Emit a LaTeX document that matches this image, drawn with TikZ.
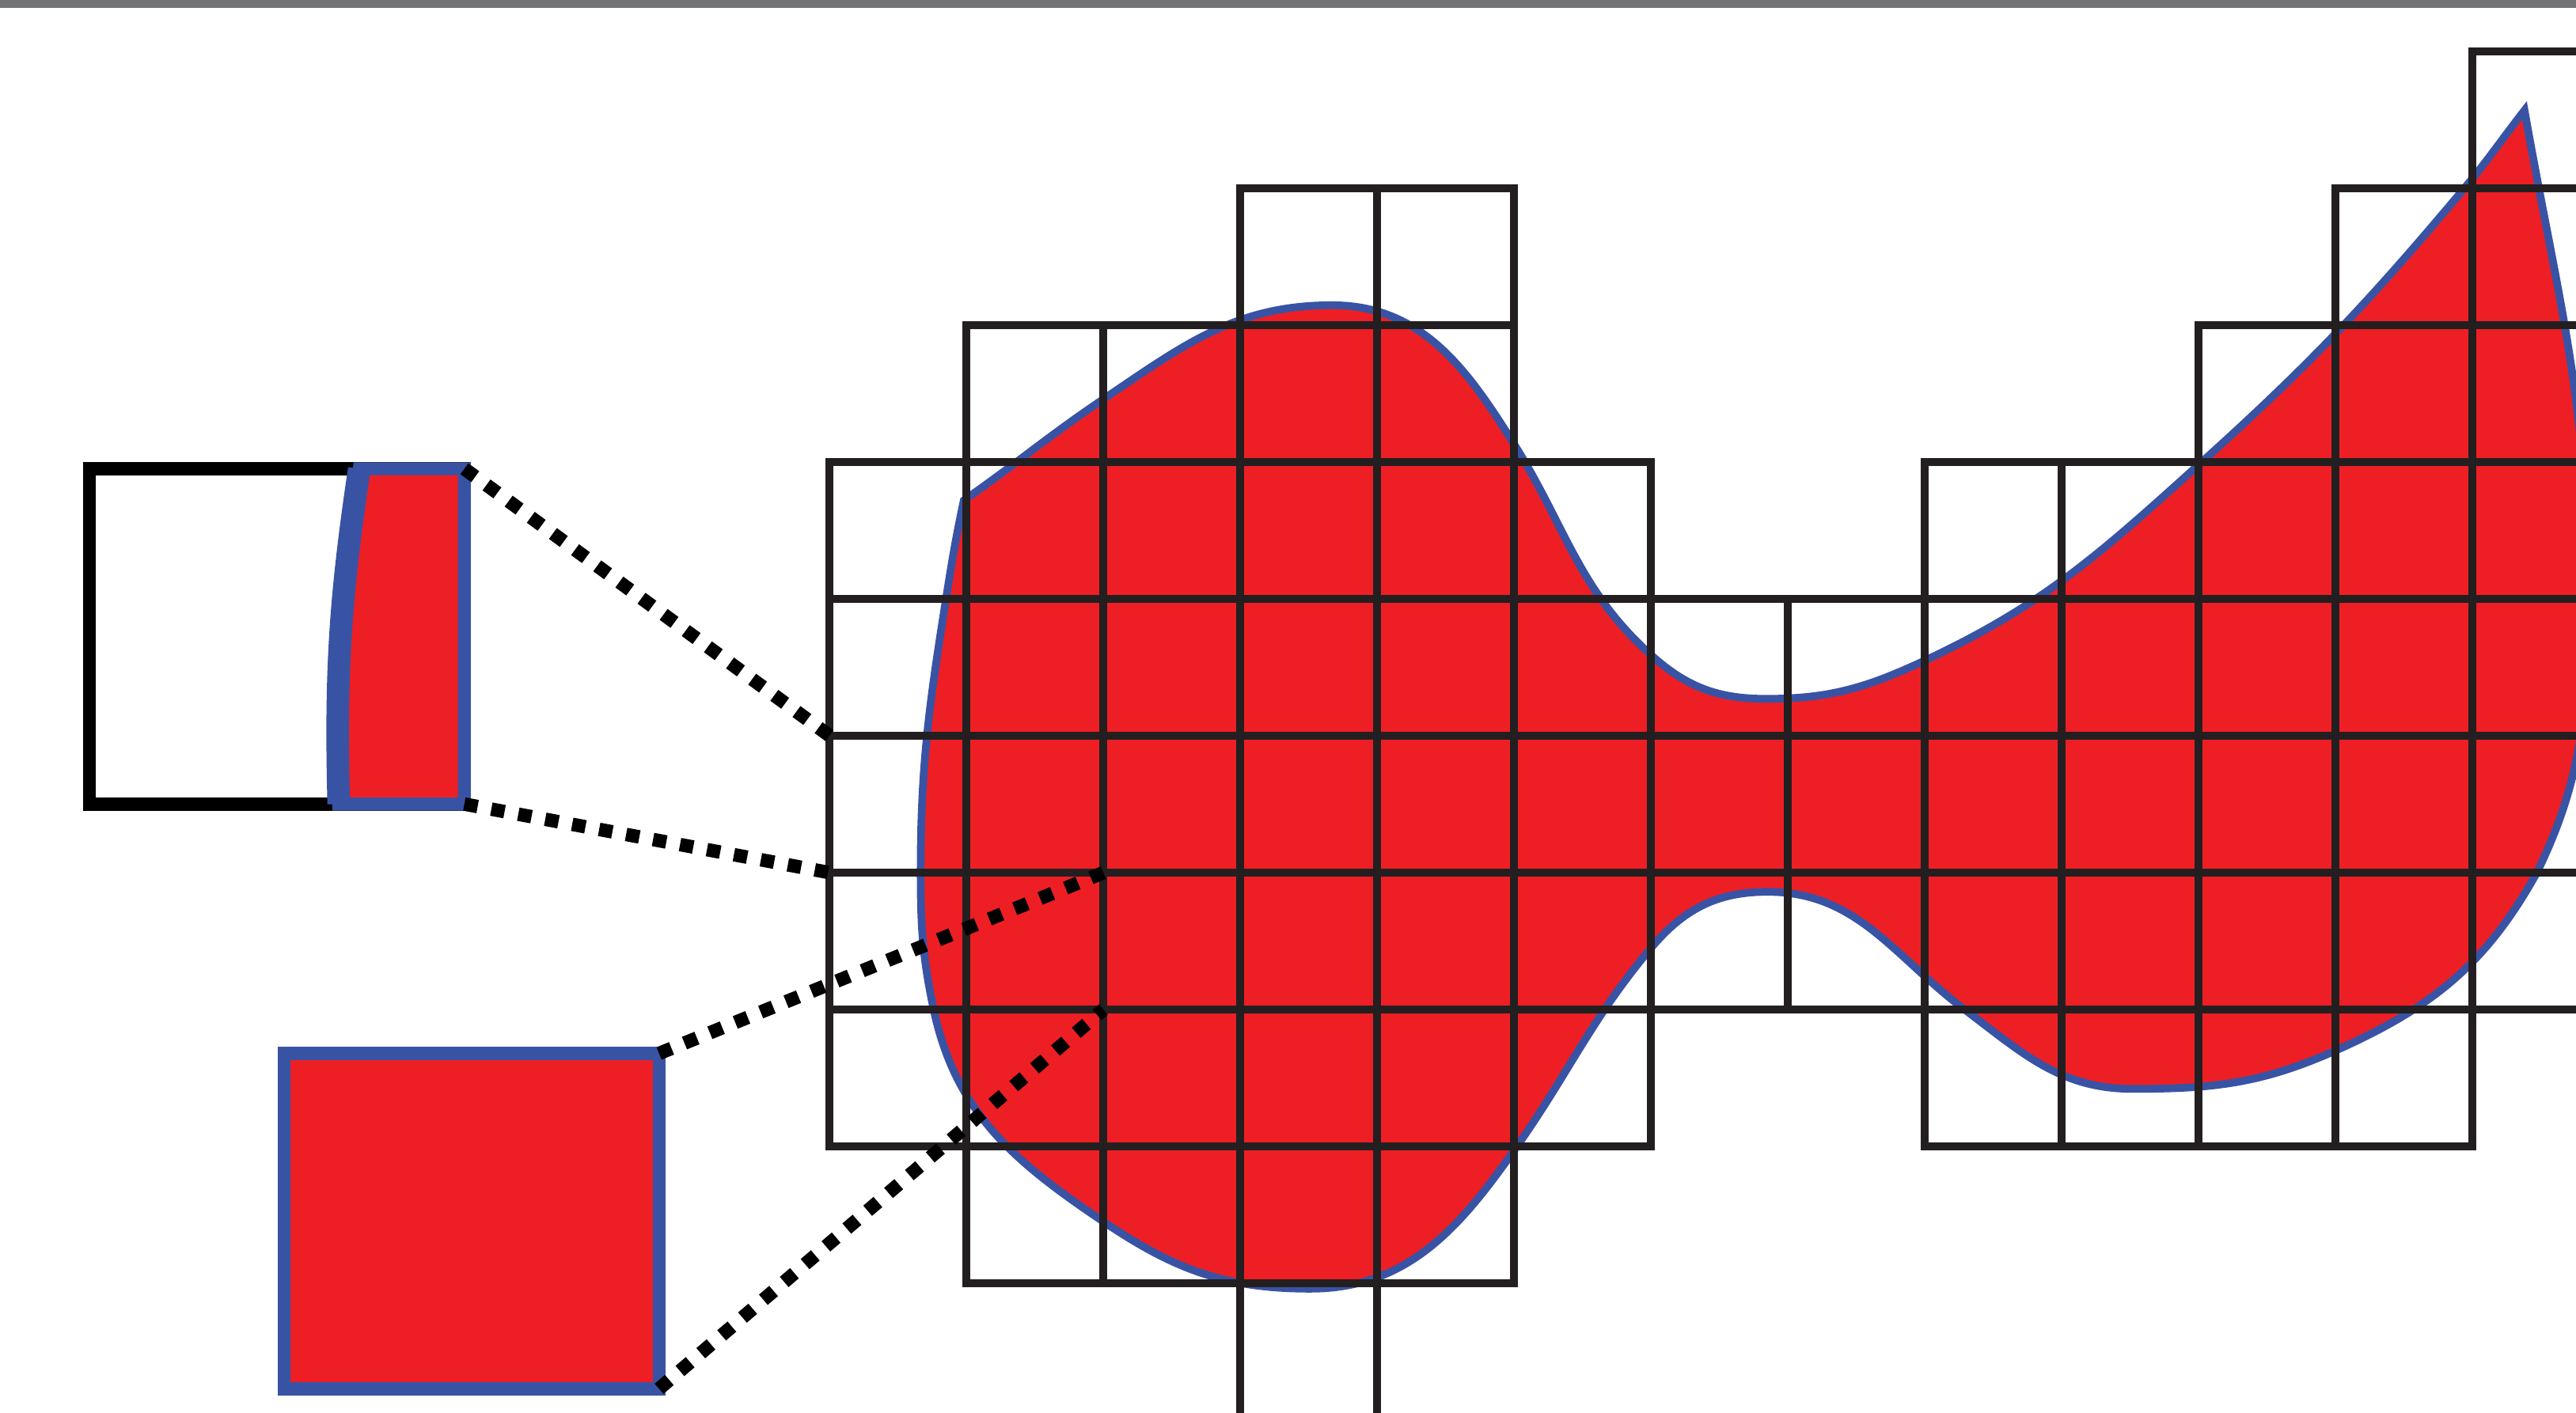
\documentclass[tikz,border=0pt]{standalone}
\usetikzlibrary{calc}

\definecolor{cellred}{RGB}{237,31,36}
\definecolor{edgeblue}{RGB}{57,83,164}
\definecolor{gridline}{RGB}{35,31,32}
\definecolor{bandgray}{RGB}{115,116,118}

\tikzset{
  cell/.style={draw=gridline, line width=1.7pt},
  blob/.style={fill=cellred, draw=edgeblue, line width=1.6pt},
  inset/.style={rectangle, minimum width=2.74cm, minimum height=2.45cm,
    inner sep=0pt, outer sep=0pt, line width=2.7pt},
  zoomline/.style={black, line width=2.8pt, dash pattern=on 2.8pt off 2.9pt}
}

\begin{document}
\begin{tikzpicture}
  \useasboundingbox (-6.06,-1.944) rectangle (12.756,8.376);
  \clip (-6.06,-1.944) rectangle (12.756,8.376);

  % the shape, clockwise from the tip
  \filldraw[blob] (12.38,7.57) to[out=-80,in=90] (12.84,4.1)
    to[out=-90,in=64] (12.47,2) to[out=-119,in=24] (11,0.7)
    to[out=-156,in=0] (9.52,0.42) to[out=180,in=-37] (8.29,1)
    to[out=143,in=0] (6.85,1.86) to[out=180,in=50] (6,1.45)
    to[out=-130,in=55] (5.02,0) to[out=-125,in=0] (3.51,-1.04)
    to[out=180,in=-34] (2,-0.55) to[out=146,in=-78] (0.76,1)
    to[out=102,in=-90] (0.665,2) to[out=90,in=-99] (0.85,4)
    to[out=81,in=-102] (0.98,4.72) to[out=35,in=-146] (2,5.46)
    to[out=34,in=180] (3.67,6.146) to[out=0,in=122] (5,5.13)
    to[out=-58,in=138] (6,3.59) to[out=-42,in=180] (6.84,3.27)
    to[out=0,in=-155] (8,3.55) to[out=25,in=-138] (10,4.98)
    to[out=42,in=-130] (11.94,7) to[out=50,in=-128] (12.38,7.57) -- cycle;

  % pixel grid
  \foreach \r/\cols in {7/{12}, 6/{3,4,11,12}, 5/{1,2,3,4,10,11,12},
      4/{0,1,2,3,4,5,8,9,10,11,12}, 3/{0,...,12}, 2/{0,...,12}, 1/{0,...,12},
      0/{0,1,2,3,4,5,8,9,10,11}, -1/{1,2,3,4}, -2/{3}} {
    \foreach \c in \cols {\draw[cell] (\c,\r) rectangle ++(1,1);}
  }

  \coordinate (cellA-top) at (0,3);
  \coordinate (cellA-bot) at (0,2);
  \coordinate (cellB-top) at (2,2);
  \coordinate (cellB-bot) at (2,1);

  % magnified cells
  \node[inset, draw=black, fill=white] (zoomA) at (-4.038,3.726) {};
  \coordinate (edgeA-bot) at ($(zoomA.south west)!0.665!(zoomA.south east)$);
  \coordinate (edgeA-top) at ($(zoomA.north west)!0.72!(zoomA.north east)$);
  \filldraw[fill=cellred, draw=edgeblue, line width=2.7pt] (edgeA-bot) -- (zoomA.south east) -- (zoomA.north east) -- (edgeA-top) to[bend right=5] (edgeA-bot) -- cycle;
  \draw[edgeblue, line width=4.7pt] (edgeA-top) to[bend right=5] (edgeA-bot);

  \node[inset, draw=edgeblue, fill=cellred] (zoomB) at (-2.616,-0.546) {};

  \draw[zoomline] (zoomA.north east) -- (cellA-top);
  \draw[zoomline] (zoomA.south east) -- (cellA-bot);
  \draw[zoomline] (zoomB.north east) -- (cellB-top);
  \draw[zoomline] (zoomB.south east) -- (cellB-bot);

  \fill[bandgray] (-6.06,8.318) rectangle (12.756,8.376);
\end{tikzpicture}
\end{document}
